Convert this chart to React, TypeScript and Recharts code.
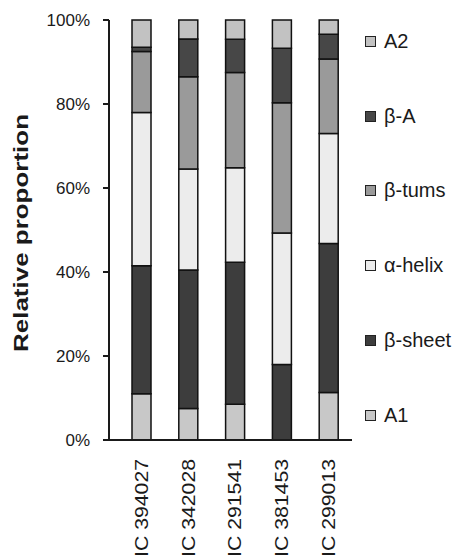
import { BarChart, Bar, XAxis, YAxis, Legend, Label } from "recharts";

const categories = ["IC 394027", "IC 342028", "IC 291541", "IC 381453", "IC 299013"];
const a1 = [11, 7.5, 8.5, 0, 11.3];
const betaSheet = [30.5, 33, 33.8, 18, 35.5];
const alphaHelix = [36.5, 24, 22.5, 31.3, 26.2];
const betaTurns = [14.5, 22, 22.7, 31, 17.7];
const betaA = [1, 9, 7.9, 13, 5.9];
const a2 = [6.5, 4.5, 4.6, 6.7, 3.4];
const yTicks = [0, 20, 40, 60, 80, 100];

const series = [
  { key: "a1", name: "A1", values: a1, fill: "#c8c8c8" },
  { key: "betaSheet", name: "β-sheet", values: betaSheet, fill: "#3d3d3d" },
  { key: "alphaHelix", name: "α-helix", values: alphaHelix, fill: "#ececec" },
  { key: "betaTurns", name: "β-tums", values: betaTurns, fill: "#9a9a9a" },
  { key: "betaA", name: "β-A", values: betaA, fill: "#474747" },
  { key: "a2", name: "A2", values: a2, fill: "#c2c2c2" },
];

const data = categories.map((name, i) => {
  const row: Record<string, string | number> = { name };
  series.forEach((s) => (row[s.key] = s.values[i]));
  return row;
});

const FONT = "'Liberation Sans', Arial, sans-serif";
const INK = "#1a1a1a";

function XTick({ x, y, payload }: any) {
  return (
    <g transform={`translate(${x},${y})`}>
      <text
        x={-11}
        y={0}
        dy="0.36em"
        transform="rotate(-90)"
        textAnchor="end"
        fontSize={18}
        fontFamily={FONT}
        fill={INK}
        textLength={98}
        lengthAdjust="spacingAndGlyphs"
      >
        {payload.value}
      </text>
    </g>
  );
}

function YTitle({ viewBox }: any) {
  const cx = viewBox.x + 28;
  const cy = viewBox.y + viewBox.height / 2 + 3;
  return (
    <text
      x={cx}
      y={cy}
      transform={`rotate(-90, ${cx}, ${cy})`}
      textAnchor="middle"
      fontSize={20}
      fontWeight="bold"
      fontFamily={FONT}
      fill={INK}
      textLength={238}
      lengthAdjust="spacingAndGlyphs"
    >
      Relative proportion
    </text>
  );
}

// legend reads top-down in reverse stacking order (A2 first)
function LegendList({ payload }: any) {
  const order = series.map((s) => s.name);
  const items = [...(payload || [])].sort(
    (p: any, q: any) => order.indexOf(q.value) - order.indexOf(p.value)
  );
  return (
    <div style={{ fontFamily: FONT, fontSize: 20, color: INK }}>
      {items.map((it: any) => (
        <div key={it.value} style={{ height: 74.8, display: "flex", alignItems: "center" }}>
          <span
            style={{
              width: 9,
              height: 9,
              background: it.color,
              border: "1px solid #222",
              marginRight: 8,
              display: "inline-block",
            }}
          />
          <span>{it.value}</span>
        </div>
      ))}
    </div>
  );
}

export default function App() {
  return (
    <div style={{ position: "absolute", left: 0, top: 0, background: "#fff" }}>
      <BarChart
        width={461}
        height={560}
        data={data}
        margin={{ top: 20, right: 109, left: 0, bottom: 0 }}
        barSize={19}
      >
        <XAxis
          dataKey="name"
          height={120}
          interval={0}
          tickLine={false}
          tick={<XTick />}
          axisLine={{ stroke: INK, strokeWidth: 2 }}
          padding={{ left: 9, right: 0 }}
        />
        <XAxis
          xAxisId="top"
          orientation="top"
          dataKey="name"
          height={0}
          tick={false}
          tickLine={false}
          axisLine={{ stroke: INK, strokeWidth: 2 }}
        />
        <YAxis
          width={109}
          domain={[0, 100]}
          ticks={yTicks}
          tickFormatter={(v) => `${v}%`}
          tickSize={6}
          tickMargin={13}
          tick={{ fontSize: 17, fontFamily: FONT, fill: INK }}
          tickLine={{ stroke: INK, strokeWidth: 2 }}
          axisLine={{ stroke: INK, strokeWidth: 2 }}
        >
          <Label content={<YTitle />} />
        </YAxis>
        <YAxis
          yAxisId="right"
          orientation="right"
          width={0}
          domain={[0, 100]}
          tick={false}
          tickLine={false}
          axisLine={{ stroke: INK, strokeWidth: 2 }}
        />
        <Legend
          layout="vertical"
          align="center"
          verticalAlign="middle"
          itemSorter={null}
          content={<LegendList />}
          wrapperStyle={{ left: 365, top: 4, width: 96 }}
        />
        {series.map((s) => (
          <Bar
            key={s.key}
            dataKey={s.key}
            name={s.name}
            stackId="a"
            fill={s.fill}
            stroke="#111"
            strokeWidth={1.5}
            isAnimationActive={false}
          />
        ))}
      </BarChart>
    </div>
  );
}
